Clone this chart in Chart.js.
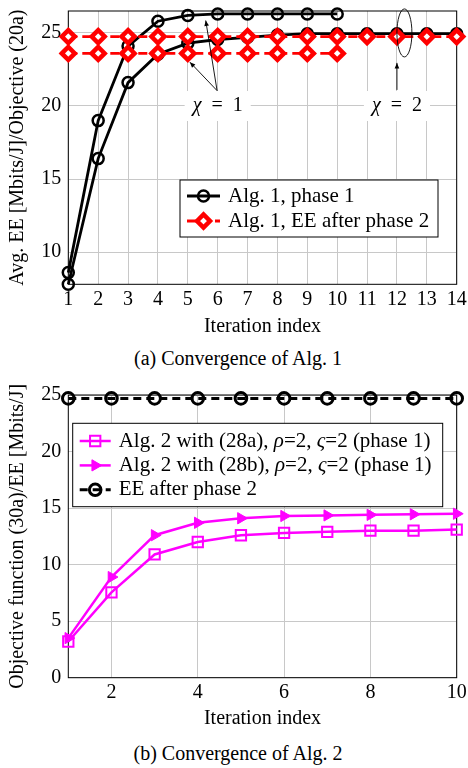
<!DOCTYPE html>
<html>
<head>
<meta charset="utf-8">
<script src="https://cdn.jsdelivr.net/npm/chart.js@4.4.1/dist/chart.umd.min.js"></script>
<style>
body { margin: 0; background: #fff; width: 468px; height: 768px; position: relative; overflow: hidden; font-family: "Liberation Serif", serif; }
canvas { position: absolute; left: 0; }
.cap { position: absolute; left: 0; width: 476px; text-align: center; font-size: 20px; line-height: 24px; }
</style>
</head>
<body>
<canvas id="chartA" width="468" height="340" style="top:0"></canvas>
<div class="cap" style="top:346px">(a) Convergence of Alg. 1</div>
<canvas id="chartB" width="468" height="362" style="top:370px"></canvas>
<div class="cap" style="top:741px">(b) Convergence of Alg. 2</div>
<script>
// ---- data, chart (a) ----
const iterA = [1, 2, 3, 4, 5, 6, 7, 8, 9, 10, 11, 12, 13, 14];
const phase1Chi1 = [8.6, 19.0, 24.1, 25.8, 26.2, 26.3, 26.3, 26.3, 26.3, 26.3];
const phase1Chi2 = [7.8, 16.4, 21.6, 23.55, 24.3, 24.55, 24.7, 24.85, 24.95, 24.95, 24.95, 24.95, 24.95, 24.95];
const eeChi1 = [23.6, 23.6, 23.6, 23.6, 23.6, 23.6, 23.6, 23.6, 23.6, 23.6];
const eeChi2 = [24.75, 24.75, 24.75, 24.75, 24.75, 24.75, 24.75, 24.75, 24.75, 24.75, 24.75, 24.75, 24.75, 24.75];
const yTicksA = [10, 15, 20, 25];

// ---- data, chart (b) ----
const iterB = [1, 2, 3, 4, 5, 6, 7, 8, 9, 10];
const alg2a = [3.2, 7.55, 10.9, 12.0, 12.6, 12.8, 12.9, 13.0, 13.0, 13.1];
const alg2b = [3.5, 8.9, 12.6, 13.7, 14.1, 14.3, 14.35, 14.4, 14.45, 14.5];
const eeAfter2 = [24.7, 24.7, 24.7, 24.7, 24.7, 24.7, 24.7, 24.7, 24.7, 24.7];
const xTicksB = [2, 4, 6, 8, 10];
const yTicksB = [0, 5, 10, 15, 20, 25];

const serif = '"Liberation Serif", "Times New Roman", serif';
Chart.defaults.font.family = serif;
Chart.defaults.font.size = 20;
Chart.defaults.color = '#000';

function pts(xs, ys) {
    return ys.map((y, i) => ({ x: xs[i], y: y }));
}

// greek letters in italic, like math mode
function textWidth(ctx, str, size) {
    let w = 0;
    for (const part of str.split(/([χρς])/)) {
        if (!part) continue;
        ctx.font = (/[χρς]/.test(part) ? 'italic ' : '') + size + 'px ' + serif;
        w += ctx.measureText(part).width;
    }
    return w;
}
function richText(ctx, str, x, y, size) {
    let cx = x;
    ctx.textAlign = 'left';
    ctx.textBaseline = 'middle';
    for (const part of str.split(/([χρς])/)) {
        if (!part) continue;
        ctx.font = (/[χρς]/.test(part) ? 'italic ' : '') + size + 'px ' + serif;
        ctx.fillText(part, cx, y);
        cx += ctx.measureText(part).width;
    }
}

function axes(o) {
    return {
        x: {
            type: 'linear', min: o.xMin, max: o.xMax,
            afterBuildTicks: s => { s.ticks = o.xTicks.map(v => ({ value: v })); },
            afterFit: s => { s.height = o.xH; s.paddingLeft = 0; s.paddingRight = 0; },
            grid: { color: '#c8c8c8', drawTicks: false },
            border: { display: false },
            ticks: { padding: 3, autoSkip: false, maxRotation: 0 },
            title: { display: true, text: 'Iteration index', padding: { top: 0, bottom: 1 } }
        },
        y: {
            min: o.yMin, max: o.yMax,
            afterBuildTicks: s => { s.ticks = o.yTicks.map(v => ({ value: v })); },
            afterFit: s => { s.width = 68.3; s.paddingTop = 0; s.paddingBottom = 0; },
            grid: { color: '#c8c8c8', drawTicks: false },
            border: { display: false },
            ticks: { padding: 7 },
            title: { display: true, text: o.yTitle, padding: { top: 6, bottom: 0 } }
        }
    };
}

function legendBox(ctx, area, lg) {
    ctx.save();
    ctx.fillStyle = '#fff';
    ctx.fillRect(lg.x, lg.y, lg.w, lg.h);
    ctx.strokeStyle = '#000';
    ctx.lineWidth = 1;
    ctx.strokeRect(lg.x, lg.y, lg.w, lg.h);
    lg.items.forEach((it, i) => {
        const ds = it.ds;
        const y = lg.y + lg.first + i * lg.step;
        ctx.strokeStyle = ds.borderColor;
        ctx.lineWidth = ds.borderWidth;
        ctx.setLineDash(ds.borderDash || []);
        ctx.beginPath();
        ctx.moveTo(lg.x + lg.s0, y);
        ctx.lineTo(lg.x + lg.s1, y);
        ctx.stroke();
        ctx.setLineDash([]);
        ctx.fillStyle = ds.pointBackgroundColor;
        ctx.strokeStyle = ds.pointBorderColor;
        ctx.lineWidth = ds.pointBorderWidth;
        Chart.helpers.drawPoint(ctx, {
            pointStyle: ds.pointStyle, radius: ds.pointRadius,
            rotation: ds.pointRotation || 0, borderWidth: ds.pointBorderWidth
        }, lg.x + (lg.s0 + lg.s1) / 2, y);
        ctx.fillStyle = '#000';
        richText(ctx, it.label, lg.x + lg.tx, y, 21);
    });
    ctx.restore();
}

function frame(ctx, a) {
    ctx.save();
    ctx.strokeStyle = '#000';
    ctx.lineWidth = 1;
    ctx.strokeRect(a.left, a.top, a.right - a.left, a.bottom - a.top);
    ctx.restore();
}

// ---- chart (a) ----
const chiLabels = [{ text: 'χ\u2002=\u20021', x: 6.0, y: 20.0 }, { text: 'χ\u2002=\u20022', x: 12.0, y: 20.0 }];
const chiArrows = [
    { from: [5.98, 21.05], to: [5.07, 23.0] },
    { from: [5.98, 21.05], to: [5.6, 25.85] },
    { from: [12.0, 21.1], to: [12.0, 22.95] }
];
const chiEllipse = { x: 12.25, y: 25.0, rx: 7.5, ry: 24 };

function arrow(ctx, x0, y0, x1, y1) {
    const ang = Math.atan2(y1 - y0, x1 - x0);
    ctx.beginPath();
    ctx.moveTo(x0, y0);
    ctx.lineTo(x1, y1);
    ctx.stroke();
    ctx.beginPath();
    ctx.moveTo(x1, y1);
    ctx.lineTo(x1 - 6 * Math.cos(ang - 0.4), y1 - 6 * Math.sin(ang - 0.4));
    ctx.lineTo(x1 - 6 * Math.cos(ang + 0.4), y1 - 6 * Math.sin(ang + 0.4));
    ctx.closePath();
    ctx.fill();
}

const blackA = {
    type: 'line', borderColor: '#000', borderWidth: 2.8, pointStyle: 'circle', pointRadius: 5.5,
    pointBorderWidth: 2.5, pointBorderColor: '#000', pointBackgroundColor: 'rgba(0,0,0,0)', clip: false
};
const redA = {
    type: 'line', borderColor: '#ff0000', borderWidth: 2.8, borderDash: [9, 5], pointStyle: 'rectRot',
    pointRadius: 6.5, pointBorderWidth: 4.5, pointBorderColor: '#ff0000', pointBackgroundColor: '#ffffff', clip: false
};
const dsA = [
    Object.assign({ label: 'Alg. 1, EE after phase 2', data: pts(iterA, eeChi2) }, redA),
    Object.assign({ label: 'Alg. 1, EE after phase 2', data: pts(iterA, eeChi1) }, redA),
    Object.assign({ label: 'Alg. 1, phase 1', data: pts(iterA, phase1Chi1) }, blackA),
    Object.assign({ label: 'Alg. 1, phase 1', data: pts(iterA, phase1Chi2) }, blackA)
];

new Chart(document.getElementById('chartA'), {
    type: 'line',
    data: { datasets: dsA },
    options: {
        responsive: false, animation: false,
        layout: { padding: { left: 0, right: 11.3, top: 1, bottom: 0 } },
        plugins: { legend: { display: false }, tooltip: { enabled: false } },
        elements: { line: { tension: 0 } },
        scales: axes({ xMin: 1, xMax: 14, xTicks: iterA, xH: 55.7, yMin: 7.8, yMax: 26.5, yTicks: yTicksA,
            yTitle: 'Avg. EE [Mbits/J]/Objective (20a)' })
    },
    plugins: [{
        id: 'decorA',
        beforeDatasetsDraw(chart) {
            const ctx = chart.ctx, sx = chart.scales.x, sy = chart.scales.y;
            frame(ctx, chart.chartArea);
            ctx.save();
            chiLabels.forEach(l => {
                const px = sx.getPixelForValue(l.x), py = sy.getPixelForValue(l.y);
                const w = textWidth(ctx, l.text, 20);
                ctx.fillStyle = '#fff';
                ctx.fillRect(px - w / 2 - 8, py - 15, w + 16, 30);
                ctx.fillStyle = '#000';
                richText(ctx, l.text, px - w / 2, py, 20);
            });
            ctx.restore();
        },
        afterDatasetsDraw(chart) {
            const ctx = chart.ctx, sx = chart.scales.x, sy = chart.scales.y;
            ctx.save();
            ctx.strokeStyle = '#000';
            ctx.fillStyle = '#000';
            ctx.lineWidth = 0.9;
            chiArrows.forEach(a => {
                arrow(ctx, sx.getPixelForValue(a.from[0]), sy.getPixelForValue(a.from[1]),
                    sx.getPixelForValue(a.to[0]), sy.getPixelForValue(a.to[1]));
            });
            ctx.beginPath();
            ctx.ellipse(sx.getPixelForValue(chiEllipse.x), sy.getPixelForValue(chiEllipse.y),
                chiEllipse.rx, chiEllipse.ry, 0, 0, Math.PI * 2);
            ctx.stroke();
            ctx.restore();
        },
        afterDraw(chart) {
            legendBox(chart.ctx, chart.chartArea, {
                x: 180, y: 180, w: 258, h: 57, first: 16, step: 25, s0: 7, s1: 40, tx: 48,
                items: [{ ds: dsA[2], label: 'Alg. 1, phase 1' }, { ds: dsA[0], label: 'Alg. 1, EE after phase 2' }]
            });
        }
    }]
});

// ---- chart (b) ----
const dsB = [
    { label: 'Alg. 2 with (28a), ρ=2, ς=2 (phase 1)', data: pts(iterB, alg2a), borderColor: '#ff00ff', borderWidth: 2.5,
      pointStyle: 'rect', pointRadius: 7.3, pointBorderWidth: 2, pointBorderColor: '#ff00ff',
      pointBackgroundColor: 'rgba(0,0,0,0)', clip: false },
    { label: 'Alg. 2 with (28b), ρ=2, ς=2 (phase 1)', data: pts(iterB, alg2b), borderColor: '#ff00ff', borderWidth: 2.5,
      pointStyle: 'triangle', pointRotation: 90, pointRadius: 6.5, pointBorderWidth: 1, pointBorderColor: '#ff00ff',
      pointBackgroundColor: '#ff00ff', clip: false },
    { label: 'EE after phase 2', data: pts(iterB, eeAfter2), borderColor: '#000', borderWidth: 3, borderDash: [8, 5],
      pointStyle: 'circle', pointRadius: 5.8, pointBorderWidth: 3, pointBorderColor: '#000',
      pointBackgroundColor: 'rgba(0,0,0,0)', clip: false }
];

new Chart(document.getElementById('chartB'), {
    type: 'line',
    data: { datasets: dsB },
    options: {
        responsive: false, animation: false,
        layout: { padding: { left: 0, right: 11.3, top: 25, bottom: 0 } },
        plugins: { legend: { display: false }, tooltip: { enabled: false } },
        elements: { line: { tension: 0 } },
        scales: axes({ xMin: 1, xMax: 10, xTicks: xTicksB, xH: 54.3, yMin: 0, yMax: 25, yTicks: yTicksB,
            yTitle: 'Objective function (30a)/EE [Mbits/J]' })
    },
    plugins: [{
        id: 'decorB',
        beforeDatasetsDraw(chart) {
            frame(chart.ctx, chart.chartArea);
        },
        afterDraw(chart) {
            legendBox(chart.ctx, chart.chartArea, {
                x: 72.7, y: 53.3, w: 370, h: 83.4, first: 17.7, step: 24.4, s0: 7, s1: 38, tx: 46,
                items: dsB.map(d => ({ ds: d, label: d.label }))
            });
        }
    }]
});
</script>
</body>
</html>
